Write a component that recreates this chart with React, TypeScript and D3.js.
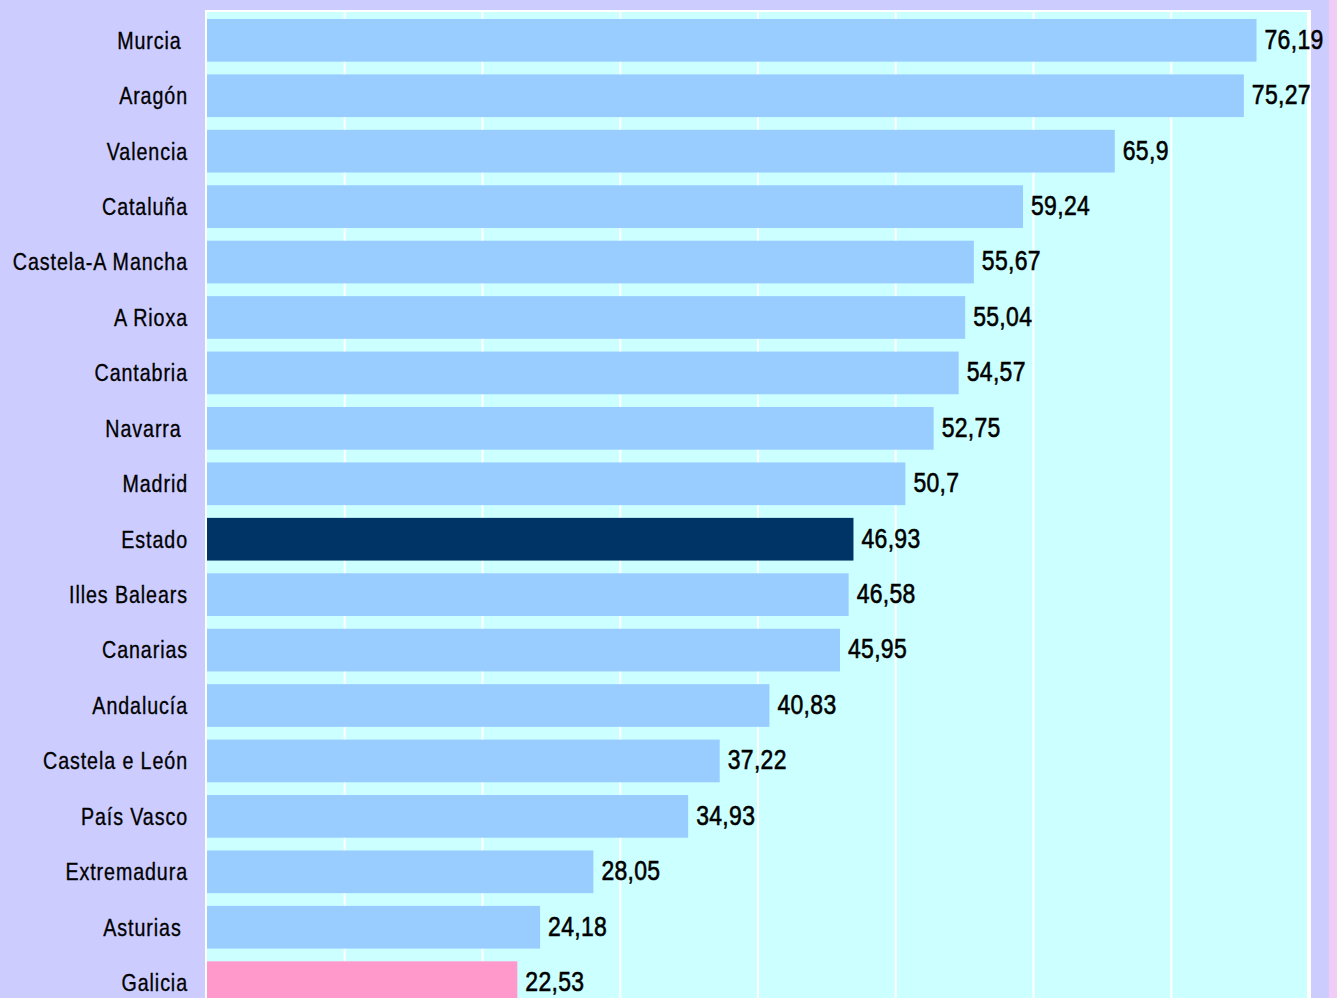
import React from "react";
import * as d3 from "d3";

const categories = [
  "Murcia ", "Aragón", "Valencia", "Cataluña", "Castela-A Mancha", "A Rioxa",
  "Cantabria", "Navarra ", "Madrid", "Estado", "Illes Balears", "Canarias",
  "Andalucía", "Castela e León", "País Vasco", "Extremadura", "Asturias ", "Galicia",
];
const values = [
  76.19, 75.27, 65.9, 59.24, 55.67, 55.04, 54.57, 52.75, 50.7, 46.93, 46.58,
  45.95, 40.83, 37.22, 34.93, 28.05, 24.18, 22.53,
];
const labels = [
  "76,19", "75,27", "65,9", "59,24", "55,67", "55,04", "54,57", "52,75", "50,7",
  "46,93", "46,58", "45,95", "40,83", "37,22", "34,93", "28,05", "24,18", "22,53",
];
const ticks = [0, 10, 20, 30, 40, 50, 60, 70, 80];

const W = 1337;
const H = 998;
const FONT = "'Liberation Sans', Arial, sans-serif";
const SX = 0.82;

export default function App() {
  const plotLeft = 207;
  const plotTop = 12;
  const x = d3.scaleLinear().domain([0, 80]).range([plotLeft, 1309]);
  const y = d3
    .scaleBand<string>()
    .domain(categories)
    .range([plotTop, 1011])
    .paddingInner(0.23)
    .paddingOuter(0.126);

  const colorFor = (c: string) =>
    c === "Estado" ? "#003366" : c === "Galicia" ? "#FF99CC" : "#99CCFF";

  return (
    <svg
      width={W}
      height={H}
      style={{ position: "absolute", left: 0, top: 0, display: "block" }}
    >
      <rect x={0} y={0} width={W} height={H} fill="#CCCCFF" />
      <rect x={1329} y={0} width={W - 1329} height={H} fill="#F0CCF6" />
      {/* plot frame */}
      <rect x={205} y={10} width={1311 - 205} height={H - 10} fill="#FFFFFF" />
      <rect x={plotLeft} y={plotTop} width={1307 - plotLeft} height={H - plotTop} fill="#CCFFFF" />
      {ticks.slice(1).map((t) => (
        <line
          key={t}
          x1={x(t)}
          x2={x(t)}
          y1={plotTop}
          y2={H}
          stroke="#FFFFFF"
          strokeWidth={2}
        />
      ))}
      {categories.map((c, i) => (
        <rect
          key={c}
          x={x(0)}
          y={y(c)}
          width={x(values[i]) - x(0)}
          height={y.bandwidth()}
          fill={colorFor(c)}
        />
      ))}
      {categories.map((c) => (
        <text
          key={"c" + c}
          transform={`translate(188,${(y(c) as number) + y.bandwidth() / 2}) scale(${SX},1)`}
          dy="0.35em"
          textAnchor="end"
          fontFamily={FONT}
          fontSize={24}
          letterSpacing={1.1}
          fill="#000"
          stroke="#000"
          strokeWidth={0.35}
          style={{ whiteSpace: "pre" }}
        >
          {c}
        </text>
      ))}
      {categories.map((c, i) => (
        <text
          key={"v" + c}
          transform={`translate(${x(values[i]) + 8},${(y(c) as number) + y.bandwidth() / 2}) scale(${SX},1)`}
          dy="0.3em"
          textAnchor="start"
          fontFamily={FONT}
          fontSize={28}
          letterSpacing={0.4}
          fill="#000"
          stroke="#000"
          strokeWidth={0.6}
        >
          {labels[i]}
        </text>
      ))}
    </svg>
  );
}
